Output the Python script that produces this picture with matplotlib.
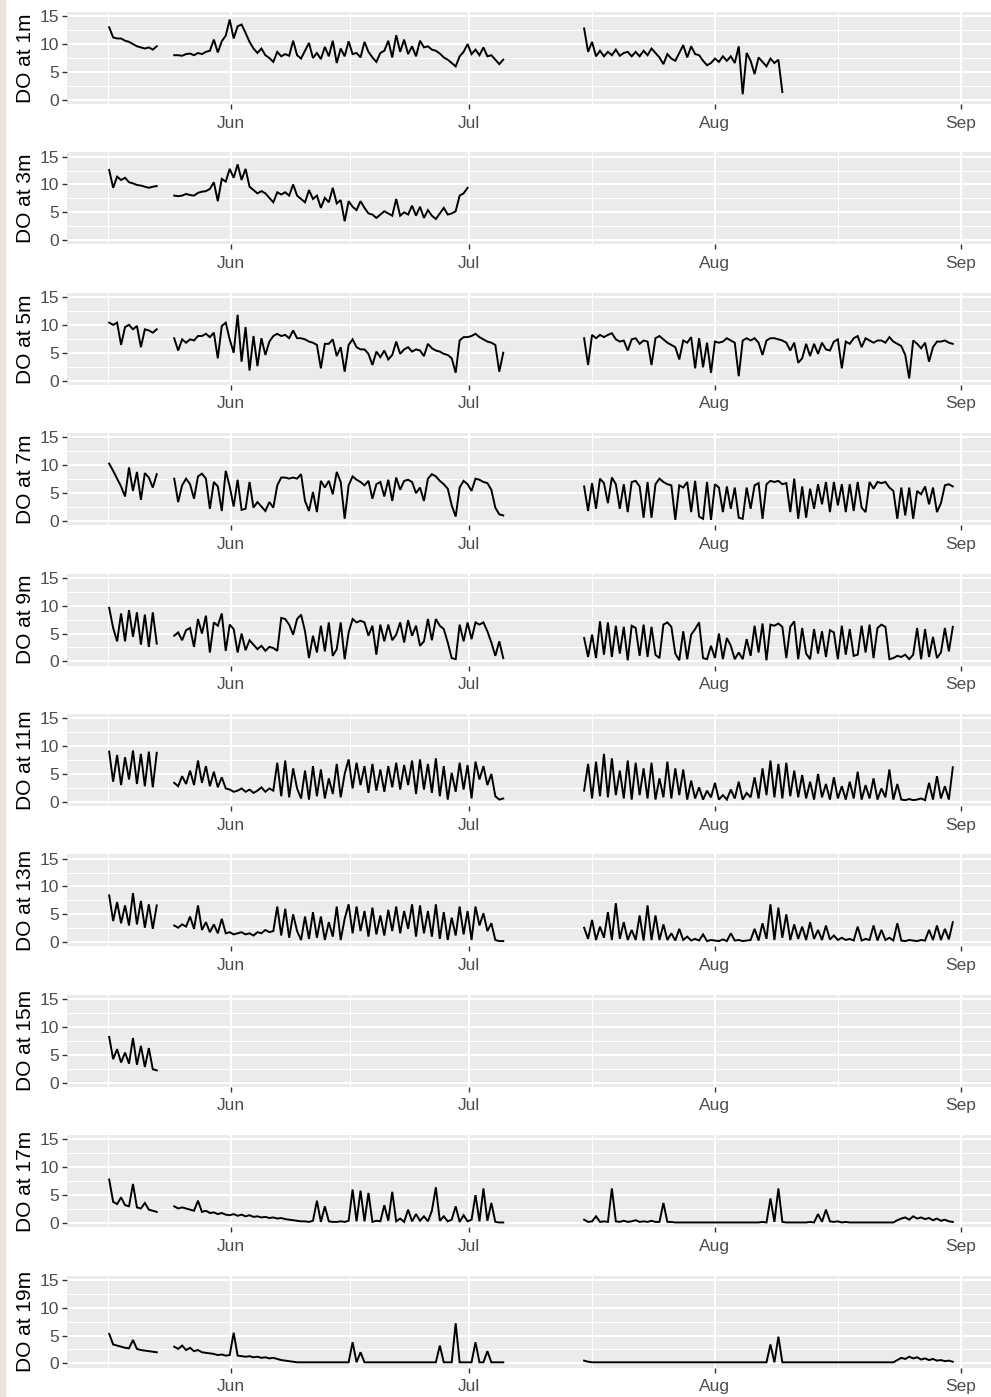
import numpy as np
import matplotlib
matplotlib.use("Agg")
import matplotlib.pyplot as plt
import matplotlib.dates as mdates
from matplotlib.ticker import FixedLocator
from matplotlib.patches import Rectangle

# logger depths (m)
depths = [1, 3, 5, 7, 9, 11, 13, 15, 17, 19]

# three deployments; first reading given in days from 1 June, 12-hourly readings after that
t0 = np.datetime64("2019-06-01T00:00")
seg_start = [-15.4, -7.2, 44.5]
step_days = 0.5

# dissolved oxygen (mg/L), one list per deployment
do_1m_a = [13.0, 11.2, 11.0, 11.0, 10.6, 10.4, 10.0, 9.6, 9.4, 9.2, 9.4, 9.0, 9.6]
do_1m_b = [8.0, 8.0, 7.9, 8.2, 8.3, 8.0, 8.4, 8.2, 8.6, 8.8,
           10.8, 8.5, 10.5, 11.5, 14.4, 11.0, 13.2, 13.5, 12.0, 10.4,
           9.2, 8.4, 9.2, 8.0, 7.5, 6.8, 8.6, 7.8, 8.2, 7.9,
           10.6, 8.0, 7.4, 8.8, 10.2, 7.5, 8.4, 7.3, 9.5, 7.8,
           10.6, 6.6, 9.2, 7.8, 10.5, 8.2, 8.4, 7.6, 10.4, 8.6,
           7.6, 6.8, 8.4, 8.8, 10.6, 7.6, 11.6, 8.6, 10.8, 8.2,
           9.6, 7.8, 10.6, 9.4, 9.6, 9.0, 8.8, 8.3, 7.6, 7.2,
           6.6, 6.0, 7.8, 8.6, 10.0, 8.2, 9.0, 8.0, 9.4, 7.8,
           8.0, 7.2, 6.4, 7.2]
do_1m_c = [12.8, 8.6, 10.4, 7.8, 8.8, 7.8, 8.6, 8.0, 9.0, 7.9,
           8.4, 8.6, 7.8, 8.6, 7.8, 8.8, 8.0, 9.2, 8.4, 7.6,
           6.4, 8.2, 7.4, 7.0, 8.4, 9.8, 7.6, 9.6, 8.2, 8.0,
           7.0, 6.2, 6.6, 7.4, 6.8, 7.8, 7.0, 7.8, 6.6, 9.6,
           1.0, 8.4, 7.0, 4.6, 7.6, 6.8, 6.0, 7.4, 6.6, 7.2,
           1.4]

do_3m_a = [12.6, 9.4, 11.4, 10.8, 11.2, 10.4, 10.2, 9.9, 9.8, 9.6, 9.4, 9.6, 9.7]
do_3m_b = [8.0, 7.9, 8.0, 8.3, 8.1, 8.0, 8.5, 8.7, 8.8, 9.2,
           10.4, 7.0, 11.0, 10.5, 12.8, 11.2, 13.6, 10.8, 12.8, 9.6,
           9.0, 8.4, 8.8, 8.4, 7.6, 6.8, 8.6, 8.2, 8.6, 8.0,
           10.0, 8.0, 7.4, 6.8, 9.0, 7.4, 8.0, 5.8, 7.6, 6.8,
           9.4, 6.6, 7.2, 3.4, 7.0, 6.0, 5.4, 7.0, 5.8, 4.8,
           4.6, 4.0, 4.6, 5.2, 4.8, 4.4, 7.4, 4.4, 5.0, 4.6,
           6.2, 4.4, 6.0, 4.0, 5.4, 4.4, 3.8, 4.8, 5.8, 4.6,
           4.8, 5.2, 8.0, 8.4, 9.4]

do_5m_a = [10.4, 10.0, 10.4, 6.4, 9.6, 10.0, 9.2, 9.8, 6.0, 9.2, 9.0, 8.6, 9.2]
do_5m_b = [7.6, 5.4, 7.4, 6.8, 7.4, 7.2, 8.0, 8.0, 8.4, 7.8,
           8.6, 4.0, 9.8, 10.4, 7.4, 5.0, 11.8, 3.4, 9.6, 1.8,
           8.0, 2.6, 7.6, 4.6, 7.0, 8.0, 8.4, 8.0, 8.2, 7.6,
           9.0, 7.6, 7.6, 7.4, 7.0, 6.8, 6.4, 2.2, 6.6, 6.6,
           7.4, 4.4, 6.0, 1.6, 6.4, 7.4, 6.0, 5.6, 5.6, 4.8,
           2.8, 5.2, 4.2, 5.4, 3.8, 4.6, 7.0, 4.8, 5.6, 6.0,
           5.2, 5.6, 5.4, 4.4, 6.6, 5.8, 5.4, 5.2, 4.8, 4.6,
           4.0, 1.4, 7.2, 7.8, 7.8, 8.0, 8.4, 7.8, 7.4, 7.0,
           6.8, 6.4, 1.6, 5.0]
do_5m_c = [7.6, 2.8, 8.2, 7.6, 8.2, 7.8, 8.2, 8.5, 7.4, 7.0,
           7.2, 5.4, 7.4, 7.6, 6.6, 7.2, 7.0, 2.8, 7.6, 8.0,
           7.4, 6.8, 6.4, 6.0, 3.8, 7.2, 6.8, 7.8, 2.2, 7.6,
           2.4, 6.8, 1.4, 7.0, 6.8, 7.0, 7.6, 7.2, 6.8, 0.8,
           7.2, 7.6, 7.2, 7.6, 6.8, 4.6, 7.2, 7.6, 7.6, 7.4,
           7.2, 6.8, 5.4, 6.8, 3.2, 4.0, 6.6, 4.4, 6.6, 4.8,
           6.8, 5.6, 5.4, 7.0, 7.4, 2.2, 7.0, 6.6, 7.6, 8.0,
           6.0, 7.6, 7.2, 6.8, 7.2, 7.2, 6.8, 7.8, 7.0, 6.6,
           6.2, 4.6, 0.4, 7.2, 6.6, 5.8, 6.8, 3.4, 6.0, 7.0,
           7.0, 7.2, 6.8, 6.6]

do_7m_a = [10.3, 9.0, 7.6, 6.2, 4.4, 9.6, 5.4, 8.8, 3.8, 8.6, 7.8, 6.0, 8.4]
do_7m_b = [7.6, 3.4, 6.4, 7.6, 6.6, 4.0, 8.0, 8.5, 7.6, 2.2,
           7.0, 6.2, 1.8, 9.0, 6.2, 2.6, 7.4, 2.0, 2.2, 7.0,
           2.4, 3.4, 2.6, 1.8, 3.4, 2.4, 6.4, 7.8, 7.8, 7.6,
           7.8, 7.6, 8.4, 3.6, 1.8, 5.2, 1.6, 7.2, 6.0, 7.2,
           4.8, 8.8, 7.0, 0.4, 6.4, 8.0, 7.4, 7.0, 6.4, 7.2,
           4.0, 6.6, 7.0, 4.4, 7.4, 3.6, 7.8, 5.6, 7.2, 7.4,
           7.0, 5.0, 6.0, 3.6, 7.6, 8.4, 8.0, 7.2, 6.6, 5.8,
           2.8, 0.8, 6.0, 7.2, 6.6, 5.4, 7.6, 7.4, 7.0, 6.8,
           5.6, 2.4, 1.2, 1.0]
do_7m_c = [6.2, 1.8, 6.8, 2.2, 7.6, 6.8, 3.2, 7.8, 6.6, 2.2,
           6.6, 1.6, 7.0, 7.2, 6.2, 0.6, 7.0, 0.6, 6.6, 7.6,
           7.0, 6.6, 6.4, 0.2, 6.4, 6.0, 7.0, 1.6, 7.2, 0.8,
           0.4, 7.0, 0.2, 6.6, 6.0, 1.6, 6.2, 2.2, 6.0, 0.6,
           0.4, 6.0, 2.2, 6.4, 6.8, 0.4, 6.6, 7.2, 7.0, 7.2,
           6.6, 6.8, 1.6, 7.6, 0.4, 6.2, 0.6, 5.8, 2.2, 6.6,
           3.0, 7.0, 1.6, 7.0, 2.8, 6.6, 1.6, 6.6, 1.8, 7.0,
           2.4, 1.6, 7.0, 5.8, 7.0, 6.8, 7.0, 6.0, 5.4, 0.4,
           6.0, 1.0, 6.0, 0.4, 5.4, 4.8, 6.2, 3.0, 6.0, 1.6,
           3.2, 6.4, 6.6, 6.2]

do_9m_a = [9.6, 6.0, 3.6, 8.6, 3.6, 9.2, 4.4, 8.8, 3.0, 8.4, 2.6, 8.8, 3.2]
do_9m_b = [4.6, 5.2, 3.8, 5.6, 6.0, 2.6, 7.6, 5.0, 8.2, 1.6,
           7.0, 6.4, 8.6, 1.9, 6.6, 5.8, 1.6, 5.0, 2.0, 3.8,
           3.0, 2.2, 2.8, 1.9, 2.6, 2.4, 1.9, 7.8, 7.6, 6.6,
           4.8, 7.6, 8.4, 5.4, 0.6, 4.6, 1.6, 6.4, 1.8, 7.0,
           1.0, 2.2, 7.0, 0.4, 5.2, 7.6, 7.0, 7.3, 7.0, 4.6,
           6.4, 1.2, 6.6, 3.6, 6.6, 3.8, 4.8, 7.0, 3.4, 7.4,
           4.6, 6.4, 2.8, 3.6, 7.6, 3.8, 7.6, 6.4, 5.8, 3.4,
           0.6, 0.4, 6.6, 3.6, 7.0, 4.0, 7.0, 6.6, 7.0, 5.4,
           3.4, 1.0, 3.6, 0.6]
do_9m_c = [4.2, 0.8, 4.8, 0.6, 7.2, 1.2, 7.0, 0.8, 6.4, 1.4,
           6.2, 0.2, 6.4, 6.0, 1.0, 6.6, 0.8, 6.2, 1.2, 0.6,
           6.6, 7.0, 6.2, 1.4, 0.2, 5.4, 0.4, 4.8, 5.8, 7.0,
           0.6, 0.4, 2.8, 0.6, 5.0, 0.4, 4.2, 2.8, 0.4, 1.6,
           0.4, 4.0, 1.0, 6.4, 1.6, 6.8, 0.2, 6.6, 6.4, 6.8,
           6.2, 0.6, 6.2, 7.2, 0.4, 6.0, 1.4, 0.4, 5.8, 1.4,
           5.4, 0.8, 5.6, 5.2, 0.4, 6.4, 1.2, 5.8, 1.0, 1.2,
           6.4, 1.6, 6.6, 0.6, 6.0, 6.6, 6.2, 0.4, 0.6, 1.0,
           0.8, 1.2, 0.4, 1.2, 6.0, 0.4, 5.8, 0.8, 4.4, 0.6,
           1.6, 6.0, 1.8, 6.2]

do_11m_a = [9.0, 3.6, 8.4, 3.0, 8.0, 4.0, 9.2, 3.2, 8.6, 2.8, 9.0, 2.6, 8.8]
do_11m_b = [3.4, 2.8, 4.6, 3.2, 5.6, 3.0, 7.4, 3.4, 6.4, 2.8, 5.4, 2.6, 4.4, 2.4,
            2.2, 1.8, 2.0, 2.4, 1.8, 2.2, 1.6, 2.0, 2.6, 1.8, 2.4, 2.0,
            7.0, 1.0, 7.4, 0.8, 6.0,
            2.4, 0.6, 5.6, 0.4, 6.4, 1.0, 5.8, 0.6, 4.2, 1.4, 6.8, 0.8, 5.0,
            7.6, 2.4, 7.0, 3.0, 6.4, 1.6, 6.8, 2.0, 5.8, 1.8, 6.4, 2.6,
            7.0, 2.2, 6.6, 3.0, 7.4, 1.4, 7.6, 2.2, 6.8, 1.6, 7.8,
            1.0, 6.4, 0.4, 5.2, 1.8, 7.0, 2.2, 6.6, 0.6, 7.2, 4.0, 6.4,
            3.0, 5.0, 1.0, 0.4, 0.6]
do_11m_c = [2.0, 6.8, 0.6, 7.2, 1.0, 8.6, 0.8, 7.8, 1.2, 5.6, 0.6, 7.4, 0.4, 7.0,
            1.2, 6.0, 0.6, 7.0, 0.4, 4.2, 0.8, 7.2, 0.6, 6.0, 1.2, 5.8, 0.4,
            3.8, 0.6, 2.6, 0.4, 2.0, 0.8, 3.4, 0.4, 1.2, 0.4, 2.2, 0.6, 3.6,
            0.4, 1.6, 0.8, 4.4, 0.6, 6.0,
            1.2, 7.4, 0.8, 6.8, 0.6, 7.0, 1.0, 5.6, 0.8,
            4.8, 0.6, 3.6, 0.4, 5.0, 0.8, 3.2, 0.4, 4.4, 0.6, 2.8, 0.4, 3.6,
            0.6, 5.4, 0.4, 3.0, 0.6, 4.2, 0.4, 2.4, 0.8, 5.8, 0.4, 3.2,
            0.4, 0.3, 0.5, 0.3, 0.4, 0.6, 0.3, 3.4, 0.4, 4.6, 0.6, 2.8, 0.4, 6.2]

do_13m_a = [8.4, 3.8, 7.2, 3.4, 6.6, 3.0, 8.8, 3.2, 7.4, 2.6, 6.8, 2.4, 6.6]
do_13m_b = [3.0, 2.6, 3.2, 2.8, 4.6, 2.4, 6.6, 2.2, 3.6, 1.8, 3.2, 1.6, 4.2, 1.6,
            1.8, 1.4, 1.6, 1.8, 1.4, 1.6, 1.2, 1.8, 1.6, 2.2, 1.8, 2.0,
            6.4, 1.2, 6.0, 0.8, 5.0,
            2.0, 0.4, 4.6, 0.6, 5.4, 0.8, 4.6, 0.4, 3.6, 1.0, 6.4, 0.4, 4.2,
            6.8, 1.6, 6.4, 2.0, 5.6, 1.0, 6.2, 1.4, 4.8, 1.2, 5.8, 2.0,
            6.4, 1.6, 5.6, 2.4, 6.8, 1.0, 6.6, 1.6, 5.6, 1.0, 6.8,
            0.6, 5.4, 0.4, 4.4, 1.2, 6.4, 1.4, 5.6, 0.4, 6.4, 3.0, 5.2,
            2.0, 3.4, 0.4, 0.2, 0.2]
do_13m_c = [2.6, 0.6, 4.0, 0.4, 2.8, 0.8, 5.4, 0.4, 7.0, 0.6, 3.6, 0.4, 2.2, 0.4,
            4.8, 0.3, 6.6, 0.4, 4.8, 0.4, 3.2, 0.4, 1.6, 0.3, 2.4, 0.4, 1.0,
            0.3, 0.6, 0.3, 1.4, 0.2, 0.4, 0.3, 0.2, 0.5, 0.2, 1.6, 0.3, 0.4,
            0.2, 0.3, 0.4, 2.4, 0.3, 3.4,
            0.6, 6.8, 0.4, 6.2, 0.8, 5.0, 0.4, 3.2, 0.6,
            2.8, 0.4, 3.6, 0.6, 2.2, 0.4, 3.0, 0.5, 1.2, 0.4, 0.8, 0.4, 0.6,
            0.3, 2.8, 0.3, 0.6, 0.4, 3.0, 0.3, 2.2, 0.4, 0.8, 0.3, 3.4,
            0.3, 0.2, 0.4, 0.3, 0.2, 0.4, 0.3, 2.2, 0.4, 3.0, 0.4, 2.4, 0.5, 3.6]

do_15m_a = [8.2, 4.2, 6.0, 3.6, 5.4, 3.4, 8.0, 3.2, 6.6, 2.8, 6.2, 2.4, 2.2]

do_17m_a = [7.8, 3.8, 3.4, 4.6, 3.2, 3.0, 7.0, 2.8, 2.6, 3.6, 2.4, 2.2, 2.0]
do_17m_b = [3.0, 2.6, 2.8, 2.6, 2.4, 2.2, 4.0, 2.0, 2.2, 1.8, 1.9, 1.6, 1.8, 1.5,
            1.4, 1.6, 1.3, 1.5, 1.2, 1.4, 1.1, 1.2, 1.0, 1.1, 0.9, 1.0,
            0.8, 0.9, 0.7, 0.6, 0.5, 0.4, 0.3, 0.3, 0.2, 0.4,
            4.0, 0.2, 3.0, 0.3, 0.2, 0.2, 0.3, 0.2, 0.4, 6.0,
            0.3, 5.8, 0.3, 5.4, 0.2, 0.4, 0.3, 3.2, 0.4, 5.6,
            0.3, 0.8, 0.2, 2.4, 0.3, 1.6, 0.4, 1.2, 0.3, 2.2,
            6.4, 0.4, 1.2, 0.3, 0.6, 3.0, 0.2, 1.4, 0.3, 0.6,
            5.0, 0.3, 6.2, 0.4, 3.6, 0.2, 0.1, 0.1]
do_17m_c = [0.6, 0.2, 0.3, 1.2, 0.2, 0.3, 0.2, 6.2, 0.3, 0.2,
            0.4, 0.2, 0.3, 0.5, 0.2, 0.3, 0.2, 0.4, 0.2, 0.2,
            3.6, 0.2, 0.2, 0.1, 0.1, 0.1, 0.1, 0.1, 0.1, 0.1,
            0.1, 0.1, 0.1, 0.1, 0.1, 0.1, 0.1, 0.1, 0.1, 0.1,
            0.1, 0.1, 0.1, 0.1, 0.1, 0.2, 0.1, 4.4, 0.2, 6.2,
            0.2, 0.1, 0.1, 0.1, 0.1, 0.1, 0.1, 0.2, 0.1, 1.6,
            0.2, 2.4, 0.3, 0.2, 0.3, 0.1, 0.2, 0.1, 0.1, 0.1,
            0.1, 0.1, 0.1, 0.1, 0.1, 0.1, 0.1, 0.1, 0.1, 0.5,
            0.8, 1.0, 0.6, 1.2, 0.8, 1.0, 0.7, 0.9, 0.5, 0.8,
            0.4, 0.6, 0.3, 0.2]

do_19m_a = [5.3, 3.4, 3.2, 3.0, 2.8, 2.7, 4.2, 2.6, 2.4, 2.3, 2.2, 2.1, 2.0]
do_19m_b = [3.0, 2.6, 3.2, 2.4, 2.8, 2.2, 2.4, 2.0, 1.9, 1.8, 1.7, 1.5, 1.6, 1.4,
            1.5, 5.5, 1.4, 1.3, 1.2, 1.3, 1.1, 1.2, 1.0, 1.1, 0.9, 1.0,
            0.8, 0.6, 0.5, 0.4, 0.3, 0.2, 0.2, 0.2, 0.2, 0.2,
            0.2, 0.2, 0.2, 0.2, 0.2, 0.2, 0.2, 0.2, 0.2, 3.8,
            0.2, 2.0, 0.2, 0.2, 0.2, 0.2, 0.2, 0.2, 0.2, 0.2,
            0.2, 0.2, 0.2, 0.2, 0.2, 0.2, 0.2, 0.2, 0.2, 0.2,
            0.2, 3.2, 0.2, 0.2, 0.2, 7.2, 0.2, 0.2, 0.2, 0.2,
            3.8, 0.2, 0.2, 2.2, 0.2, 0.2, 0.2, 0.2]
do_19m_c = [0.5, 0.3, 0.2, 0.2, 0.2, 0.2, 0.2, 0.2, 0.2, 0.2,
            0.2, 0.2, 0.2, 0.2, 0.2, 0.2, 0.2, 0.2, 0.2, 0.2,
            0.2, 0.2, 0.2, 0.2, 0.2, 0.2, 0.2, 0.2, 0.2, 0.2,
            0.2, 0.2, 0.2, 0.2, 0.2, 0.2, 0.2, 0.2, 0.2, 0.2,
            0.2, 0.2, 0.2, 0.2, 0.2, 0.2, 0.2, 3.4, 0.2, 4.8,
            0.2, 0.2, 0.2, 0.2, 0.2, 0.2, 0.2, 0.2, 0.2, 0.2,
            0.2, 0.2, 0.2, 0.2, 0.2, 0.2, 0.2, 0.2, 0.2, 0.2,
            0.2, 0.2, 0.2, 0.2, 0.2, 0.2, 0.2, 0.2, 0.2, 0.6,
            1.0, 0.8, 1.2, 0.9, 1.1, 0.7, 0.9, 0.6, 0.8, 0.5,
            0.6, 0.4, 0.5, 0.3]

series = {
    1: [do_1m_a, do_1m_b, do_1m_c],
    3: [do_3m_a, do_3m_b, []],
    5: [do_5m_a, do_5m_b, do_5m_c],
    7: [do_7m_a, do_7m_b, do_7m_c],
    9: [do_9m_a, do_9m_b, do_9m_c],
    11: [do_11m_a, do_11m_b, do_11m_c],
    13: [do_13m_a, do_13m_b, do_13m_c],
    15: [do_15m_a, [], []],
    17: [do_17m_a, do_17m_b, do_17m_c],
    19: [do_19m_a, do_19m_b, do_19m_c],
}


def stamp(days):
    mins = np.round(np.asarray(days) * 1440).astype(np.int64)
    return t0 + mins.astype("timedelta64[m]")


def times(start, n):
    return stamp(start + step_days * np.arange(n))


plt.rcParams["font.family"] = ["Liberation Sans", "DejaVu Sans"]

W, H = 991, 1397
fig = plt.figure(figsize=(W / 100, H / 100), dpi=100)
fig.patch.set_facecolor("white")
fig.add_artist(Rectangle((0, 0), 5 / W, 1, transform=fig.transFigure,
                         color="#E9E5DD", zorder=-1))

# x range: data span plus 5% either side
first = seg_start[0]
last = max(s + step_days * (len(v) - 1)
           for segs in series.values() for s, v in zip(seg_start, segs) if len(v))
pad = 0.05 * (last - first)
xmin, xmax = stamp(first - pad), stamp(last + pad)

months = [np.datetime64(f"2019-{m:02d}-01") for m in range(5, 11)]
mnum = mdates.date2num(months)
minor_x = (mnum[:-1] + mnum[1:]) / 2

for i, d in enumerate(depths):
    bottom_px = 104 + 140.4 * i
    ax = fig.add_axes([67 / W, 1 - bottom_px / H, 928 / W, 92 / H])
    ax.set_facecolor("#EBEBEB")
    for start, vals in zip(seg_start, series[d]):
        if len(vals):
            ax.plot(times(start, len(vals)), vals, color="black", lw=1.4,
                    solid_joinstyle="miter")
    ax.set_xlim(xmin, xmax)
    ax.set_ylim(-0.75, 15.75)
    ax.set_yticks([0, 5, 10, 15])
    ax.set_yticks([2.5, 7.5, 12.5], minor=True)
    ax.xaxis.set_major_locator(mdates.MonthLocator())
    ax.xaxis.set_major_formatter(mdates.DateFormatter("%b"))
    ax.xaxis.set_minor_locator(FixedLocator(minor_x))
    ax.grid(which="major", color="white", lw=1.5)
    ax.grid(which="minor", color="white", lw=0.75)
    ax.set_axisbelow(True)
    for s in ax.spines.values():
        s.set_visible(False)
    ax.tick_params(which="major", length=3.8, width=1.0, color="#333333",
                   labelcolor="#4D4D4D", labelsize=12.5, pad=2)
    ax.tick_params(axis="x", which="major", pad=4.5)
    ax.tick_params(which="minor", length=0)
    ax.set_ylabel(f"DO at {d}m", fontsize=15)
    ax.yaxis.set_label_coords(-0.035, 0.5)

fig.savefig("out.png", dpi=100)
